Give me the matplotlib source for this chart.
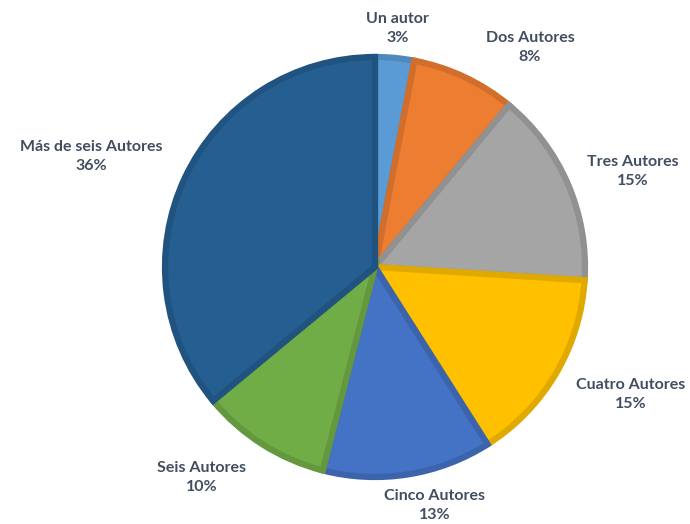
import numpy as np
import matplotlib.pyplot as plt
from matplotlib.colors import to_rgb

categorias = ['Un autor', 'Dos Autores', 'Tres Autores', 'Cuatro Autores',
              'Cinco Autores', 'Seis Autores', 'Más de seis Autores']
porcentajes = [3, 8, 15, 15, 13, 10, 36]
colores = ['#5B9BD5', '#ED7D31', '#A5A5A5', '#FFC000', '#4472C4', '#70AD47', '#255E91']

# label placement tweaks (radial factor, angle shift in degrees)
dist = [1.14, 1.28, 1.31, 1.36, 1.17, 1.30, 1.45]
shift = [0, -10, -3, 4, 5, -7, 4]

W, H = 690, 524
cx, cy, R = 375, 267, 210

fig = plt.figure(figsize=(W / 100, H / 100), dpi=100)
ax = fig.add_axes([0, 0, 1, 1])

bordes = [tuple(c * 0.88 for c in to_rgb(col)) for col in colores]
wedges, _ = ax.pie(porcentajes, colors=colores, startangle=90, counterclock=False,
                   radius=1, wedgeprops=dict(linewidth=4.5, joinstyle='miter'))
for w, b in zip(wedges, bordes):
    w.set_edgecolor(b)

ax.set_xlim(-cx / R, (W - cx) / R)
ax.set_ylim(-(H - cy) / R, cy / R)
ax.set_aspect('equal')
ax.axis('off')

for w, cat, p, d, s in zip(wedges, categorias, porcentajes, dist, shift):
    ang = np.deg2rad((w.theta1 + w.theta2) / 2 + s)
    ax.text(d * np.cos(ang), d * np.sin(ang), f'{cat}\n{p}%', ha='center', va='center',
            fontsize=11.5, fontweight='bold', color='#424E60', family='Lato',
            linespacing=1.45)

fig.savefig('out.png', dpi=100)
